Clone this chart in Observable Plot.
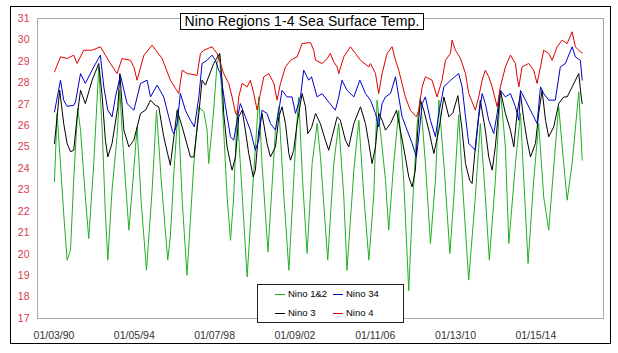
<!DOCTYPE html>
<html>
<head>
<meta charset="utf-8">
<script src="https://cdn.jsdelivr.net/npm/d3@7"></script>
<script src="https://cdn.jsdelivr.net/npm/@observablehq/plot@0.6"></script>
<style>
  html, body { margin: 0; padding: 0; background: #fff; }
  #wrap { position: relative; width: 618px; height: 353px; font-family: "Liberation Sans", Arial, sans-serif; }
  #wrap svg { position: absolute; left: 0; top: 0; }
  .outer { position: absolute; left: 10px; top: 6px; width: 601px; height: 338px; box-sizing: border-box; border: 1px solid #000; pointer-events: none; }
  .title { position: absolute; left: 180px; top: 13px; width: 244px; height: 17px; box-sizing: border-box; border: 1px solid #000; background: #fff; font-size: 14px; letter-spacing: 0.12px; line-height: 15px; text-align: center; color: #000; white-space: nowrap; }
  .legend { position: absolute; left: 257px; top: 284px; width: 147px; height: 39px; box-sizing: border-box; border: 1px solid #222; background: #fff; font-size: 9.5px; color: #000; }
  .legend .item { position: absolute; height: 12px; line-height: 12px; white-space: nowrap; }
  .legend .sw { position: absolute; left: 0; top: 6px; width: 10px; height: 0; border-top: 1px solid; }
  .legend .lab { position: absolute; left: 13px; top: 0; }
</style>
</head>
<body>
<div id="wrap"></div>
<script>
// ---- data (decimal year, °C) ----
const seriesNames = ["Nino 1&2", "Nino 3", "Nino 34", "Nino 4"];
const seriesColors = ["#22b022", "#000000", "#0000cc", "#e00000"];
const titleText = "Nino Regions 1-4 Sea Surface Temp.";
const xTickLabels = ["01/03/90", "01/05/94", "01/07/98", "01/09/02", "01/11/06", "01/13/10", "01/15/14"];
const yTicks = [17, 18, 19, 20, 21, 22, 23, 24, 25, 26, 27, 28, 29, 30, 31];

const nino12 = [
  [1990.03,23.38],[1990.16,26.57],[1990.33,24.2],[1990.49,21.9],[1990.66,19.72],[1990.83,20.19],[1990.99,23.45],
  [1991.19,26.8],[1991.33,25.79],[1991.57,22.68],[1991.74,20.73],[1991.99,24.23],
  [1992.24,28.74],[1992.41,25.79],[1992.57,21.9],[1992.69,19.72],[1992.9,22.99],
  [1993.15,25.5],[1993.29,27.65],[1993.45,25.0],[1993.74,21.12],[1993.95,23.5],
  [1994.15,25.94],[1994.35,22.5],[1994.62,19.25],[1994.9,23.0],
  [1995.12,26.72],[1995.35,23.5],[1995.68,19.72],[1995.81,20.81],[1996.0,24.0],
  [1996.2,26.8],[1996.4,22.5],[1996.64,19.02],[1996.98,24.23],
  [1997.23,26.88],[1997.48,26.64],[1997.64,25.79],[1997.72,24.23],[1997.95,26.5],
  [1998.14,28.9],[1998.27,29.29],[1998.47,25.79],[1998.64,22.68],[1998.81,20.65],[1998.97,22.68],
  [1999.14,26.72],[1999.3,24.23],[1999.64,18.94],[1999.89,22.68],
  [2000.22,27.34],[2000.38,24.23],[2000.68,20.11],
  [2001.05,25.79],[2001.22,26.88],[2001.45,23.0],[2001.72,19.25],
  [2002.05,25.0],[2002.21,27.34],[2002.4,23.5],[2002.63,20.03],[2002.88,24.23],
  [2003.13,26.1],[2003.3,24.5],[2003.66,19.72],[2003.96,24.23],
  [2004.21,26.1],[2004.46,22.68],[2004.62,19.25],[2004.96,23.92],
  [2005.21,26.25],[2005.46,22.68],[2005.71,19.72],[2005.95,22.68],
  [2006.12,27.19],[2006.37,25.0],[2006.54,23.45],[2006.7,21.12],[2006.95,24.23],
  [2007.2,26.72],[2007.45,23.45],[2007.7,18.3],[2007.87,21.9],
  [2008.12,26.1],[2008.28,27.34],[2008.53,24.23],[2008.78,20.5],
  [2009.03,23.45],[2009.2,27.19],[2009.45,24.23],[2009.75,20.03],[2009.95,22.68],
  [2010.19,26.5],[2010.4,23.0],[2010.69,18.79],
  [2011.02,22.68],[2011.27,26.1],[2011.52,22.68],[2011.72,19.72],
  [2012.02,23.45],[2012.27,27.65],[2012.52,25.0],[2012.69,20.5],
  [2013.02,24.23],[2013.27,26.57],[2013.44,23.45],[2013.65,19.57],[2013.93,23.45],
  [2014.18,26.1],[2014.43,22.68],[2014.68,21.12],
  [2015.01,25.0],[2015.18,26.88],[2015.43,24.23],[2015.6,22.52],[2015.85,24.23],
  [2016.18,27.58],[2016.35,24.39]
];

const nino3 = [
  [1990.03,25.17],[1990.29,27.65],[1990.49,26.1],[1990.66,25.17],[1990.83,24.78],[1990.99,24.85],
  [1991.16,26.41],[1991.33,27.65],[1991.57,27.03],[1991.91,28.12],
  [1992.24,28.9],[1992.41,27.34],[1992.57,25.32],[1992.69,24.54],[1992.9,25.17],
  [1993.19,26.88],[1993.29,28.43],[1993.49,25.79],[1993.74,25.01],[1993.99,25.32],
  [1994.32,26.57],[1994.57,26.72],[1994.82,27.19],[1995.06,26.95],[1995.23,26.88],[1995.48,25.48],[1995.81,24.15],
  [1996.15,26.72],[1996.4,25.94],[1996.81,24.54],[1996.98,24.54],
  [1997.23,26.57],[1997.39,28.12],[1997.56,27.89],[1997.97,28.9],
  [1998.27,29.37],[1998.39,28.12],[1998.47,26.57],[1998.64,25.01],[1998.81,24.23],[1998.89,23.92],
  [1999.06,24.54],[1999.22,26.41],[1999.39,26.72],[1999.55,25.79],[1999.72,24.7],[1999.94,23.61],
  [2000.05,23.92],[2000.22,25.79],[2000.38,26.57],[2000.63,25.17],[2000.8,24.54],
  [2001.05,25.01],[2001.22,26.41],[2001.38,26.88],[2001.55,26.1],[2001.72,24.7],[2001.8,24.39],[2001.96,24.85],
  [2002.13,26.1],[2002.38,27.5],[2002.55,26.88],[2002.66,25.63],[2002.85,25.9],
  [2003.05,26.57],[2003.29,26.1],[2003.54,25.32],[2003.71,24.85],[2003.88,25.48],
  [2004.13,26.41],[2004.29,26.25],[2004.54,25.32],[2004.71,25.01],[2004.96,26.1],
  [2005.29,26.88],[2005.54,26.1],[2005.71,25.17],[2005.87,24.23],
  [2006.04,25.01],[2006.2,26.57],[2006.37,26.25],[2006.54,25.79],[2006.79,26.1],
  [2007.09,26.72],[2007.28,25.79],[2007.53,24.54],[2007.7,23.61],[2007.87,23.14],
  [2008.03,23.92],[2008.15,25.79],[2008.28,27.19],[2008.45,26.72],[2008.7,25.79],[2008.95,24.7],
  [2009.2,25.79],[2009.45,27.34],[2009.7,26.41],[2009.9,26.6],
  [2010.15,27.4],[2010.36,25.79],[2010.53,24.23],[2010.74,23.45],[2010.86,23.3],
  [2011.02,25.01],[2011.27,27.19],[2011.52,25.79],[2011.69,24.54],[2011.86,23.92],
  [2012.02,25.01],[2012.27,27.65],[2012.52,26.57],[2012.77,25.79],[2012.94,25.01],
  [2013.1,26.57],[2013.27,27.5],[2013.44,26.25],[2013.6,25.32],[2013.77,24.54],
  [2014.02,25.17],[2014.18,26.57],[2014.35,27.65],[2014.52,26.25],[2014.68,25.48],[2014.93,25.94],
  [2015.18,27.03],[2015.43,27.34],[2015.6,27.34],[2015.85,27.81],
  [2016.18,28.43],[2016.3,27.34],[2016.35,27.03]
];

const nino34 = [
  [1990.03,26.64],[1990.33,28.12],[1990.49,27.19],[1990.66,26.9],[1990.99,26.95],
  [1991.08,27.11],[1991.33,28.43],[1991.57,27.97],[1991.99,28.74],
  [1992.32,29.29],[1992.49,27.81],[1992.69,26.72],[1992.9,26.41],
  [1993.07,27.34],[1993.32,28.35],[1993.65,27.03],[1993.99,26.72],
  [1994.32,27.97],[1994.65,28.12],[1994.82,27.34],
  [1995.15,27.89],[1995.48,27.34],[1995.73,26.41],[1995.9,25.79],[1995.98,25.63],
  [1996.15,26.1],[1996.31,27.5],[1996.56,26.72],[1996.81,26.25],
  [1997.01,25.94],[1997.23,27.34],[1997.39,28.9],[1997.64,29.05],[1997.89,29.29],
  [1998.06,29.05],[1998.22,28.59],[1998.31,28.43],[1998.56,26.88],[1998.81,25.48],[1998.97,25.32],
  [1999.14,26.25],[1999.3,27.03],[1999.55,26.41],[1999.8,25.79],
  [2000.05,24.85],[2000.22,25.32],[2000.38,26.72],[2000.63,26.57],[2000.8,26.1],
  [2001.05,25.79],[2001.22,26.72],[2001.38,27.65],[2001.63,27.34],[2001.88,27.34],
  [2002.05,26.57],[2002.3,27.34],[2002.46,28.59],[2002.71,28.12],[2002.85,28.28],
  [2003.13,27.34],[2003.38,27.5],[2003.63,27.19],
  [2004.04,26.72],[2004.21,27.34],[2004.37,28.12],[2004.62,27.65],[2004.96,27.34],
  [2005.26,28.12],[2005.54,27.5],[2005.79,27.19],
  [2006.04,26.57],[2006.2,25.94],[2006.37,27.03],[2006.54,27.34],[2006.79,27.5],
  [2007.04,28.28],[2007.2,27.34],[2007.37,26.41],[2007.62,25.79],[2007.87,25.17],
  [2008.08,24.54],[2008.2,25.48],[2008.37,27.03],[2008.53,27.34],[2008.78,26.25],
  [2009.03,25.48],[2009.2,26.57],[2009.45,27.81],[2009.78,28.12],
  [2010.19,28.43],[2010.36,27.81],[2010.53,26.41],[2010.69,25.17],[2010.86,25.01],
  [2011.02,24.85],[2011.19,26.41],[2011.36,27.5],[2011.52,27.03],[2011.69,26.25],[2011.94,25.63],
  [2012.11,26.57],[2012.27,27.65],[2012.52,27.34],[2012.77,27.5],
  [2013.02,26.88],[2013.19,26.25],[2013.27,27.65],[2013.52,27.19],[2013.85,26.57],
  [2014.1,26.1],[2014.27,27.81],[2014.43,27.5],[2014.68,27.19],
  [2015.01,27.19],[2015.26,28.74],[2015.51,28.9],[2015.85,29.68],
  [2016.01,29.21],[2016.26,29.05],[2016.35,28.12]
];

const nino4 = [
  [1990.03,28.51],[1990.33,29.21],[1990.66,29.13],[1990.99,29.29],
  [1991.16,28.9],[1991.49,29.52],[1991.91,29.52],
  [1992.32,29.68],[1992.82,28.9],
  [1993.15,28.43],[1993.4,29.13],[1993.82,29.05],[1993.99,28.74],
  [1994.15,28.12],[1994.49,29.29],[1994.9,29.75],
  [1995.4,29.13],[1995.81,28.12],
  [1996.07,27.73],[1996.23,27.5],[1996.4,28.59],[1996.64,28.43],
  [1997.14,28.35],[1997.31,29.37],[1997.48,29.52],[1997.89,29.68],
  [1998.14,29.37],[1998.31,28.9],[1998.47,28.43],[1998.72,27.97],[1998.89,27.34],
  [1999.06,26.57],[1999.14,26.5],[1999.22,27.34],[1999.39,27.97],[1999.64,27.81],[1999.8,28.12],[1999.97,27.5],
  [2000.14,26.72],[2000.3,27.5],[2000.47,28.28],[2000.72,28.43],[2000.97,27.97],
  [2001.13,27.19],[2001.3,27.97],[2001.55,28.74],[2001.8,29.05],
  [2002.13,29.21],[2002.38,29.83],[2002.8,29.88],[2002.96,29.52],
  [2003.05,29.05],[2003.38,28.9],[2003.63,29.13],[2003.79,29.37],[2003.96,28.98],
  [2004.13,28.74],[2004.21,28.43],[2004.46,29.21],[2004.79,29.68],
  [2005.04,29.37],[2005.29,29.05],[2005.71,28.74],[2005.79,28.9],
  [2006.04,28.43],[2006.2,27.5],[2006.37,28.43],[2006.62,29.37],[2006.87,29.68],
  [2007.04,29.05],[2007.2,28.59],[2007.53,27.34],[2007.78,26.72],
  [2008.08,26.41],[2008.2,26.72],[2008.37,27.81],[2008.53,28.28],[2008.86,28.12],
  [2009.11,27.34],[2009.36,28.12],[2009.53,29.05],[2009.78,29.37],[2009.86,29.99],
  [2010.03,29.52],[2010.28,29.13],[2010.53,28.43],[2010.69,27.5],[2010.86,27.11],
  [2011.02,26.72],[2011.19,27.34],[2011.36,28.12],[2011.52,28.59],[2011.69,28.28],[2011.86,27.81],
  [2012.11,26.88],[2012.27,27.81],[2012.52,28.74],[2012.77,29.29],
  [2013.02,28.9],[2013.1,28.28],[2013.19,27.81],[2013.35,28.74],[2013.68,28.9],[2013.93,28.59],
  [2014.1,27.97],[2014.27,28.74],[2014.43,29.52],[2014.68,29.37],[2014.85,29.05],
  [2015.1,29.68],[2015.35,29.99],[2015.6,29.83],[2015.85,30.38],
  [2016.01,29.68],[2016.26,29.44],[2016.35,29.4]
];

// ---- build ----
const toDate = y => {
  const yr = Math.floor(y);
  const a = Date.UTC(yr, 0, 1), b = Date.UTC(yr + 1, 0, 1);
  return new Date(a + (y - yr) * (b - a));
};
const allSeries = [nino12, nino3, nino34, nino4];
const rows = allSeries.flatMap((s, i) => s.map(([t, v]) => ({series: seriesNames[i], date: toDate(t), value: v})));
const parseTick = d3.utcParse("%m/%d/%y");
const tickDates = xTickLabels.map(parseTick);
const fmt = d3.utcFormat("%m/%d/%y");

const chart = Plot.plot({
  width: 618,
  height: 353,
  marginLeft: 37,
  marginRight: 15,
  marginTop: 18,
  marginBottom: 35,
  style: {fontFamily: "'Liberation Sans', Arial, sans-serif", fontSize: "10.5px", background: "transparent", overflow: "visible"},
  x: {type: "utc", domain: [toDate(1989.1825), toDate(2017.412)]},
  y: {domain: [17, 31]},
  color: {domain: seriesNames, range: seriesColors},
  marks: [
    Plot.frame({stroke: "#a8a8a8"}),
    ...seriesNames.map((name, i) =>
      Plot.lineY(rows.filter(r => r.series === name), {x: "date", y: "value", stroke: seriesColors[i], strokeWidth: 1})
    ),
    Plot.axisX({ticks: tickDates, tickFormat: fmt, tickSize: 0, tickPadding: 13, fill: "#333", label: null}),
    Plot.axisY({ticks: yTicks, tickSize: 0, tickPadding: 8, fill: "#d93a4a", label: null})
  ]
});

const wrap = document.getElementById("wrap");
wrap.appendChild(chart);

const outer = document.createElement("div");
outer.className = "outer";
wrap.appendChild(outer);

const title = document.createElement("div");
title.className = "title";
title.textContent = titleText;
wrap.appendChild(title);

// legend (row-wise: Nino 1&2, Nino 34 / Nino 3, Nino 4)
const legend = document.createElement("div");
legend.className = "legend";
const legendOrder = [0, 2, 1, 3];
legendOrder.forEach((si, k) => {
  const col = k % 2, row = Math.floor(k / 2);
  const it = document.createElement("div");
  it.className = "item";
  it.style.left = (col === 0 ? 17 : 75) + "px";
  it.style.top = (row === 0 ? 3 : 22) + "px";
  const sw = document.createElement("span");
  sw.className = "sw";
  sw.style.borderTopColor = seriesColors[si];
  const lab = document.createElement("span");
  lab.className = "lab";
  lab.textContent = seriesNames[si];
  it.appendChild(sw); it.appendChild(lab);
  legend.appendChild(it);
});
wrap.appendChild(legend);
</script>
</body>
</html>
